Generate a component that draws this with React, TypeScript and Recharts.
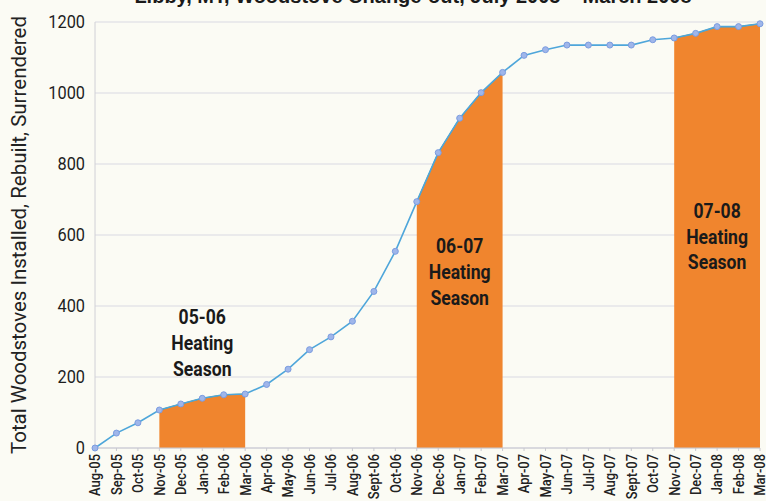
import React from "react";
import {
  ComposedChart,
  Line,
  Area,
  XAxis,
  YAxis,
  CartesianGrid,
  ReferenceDot,
} from "recharts";

const months = [
  "Aug-05", "Sep-05", "Oct-05", "Nov-05", "Dec-05", "Jan-06", "Feb-06", "Mar-06",
  "Apr-06", "May-06", "Jun-06", "Jul-06", "Aug-06", "Sept-06", "Oct-06", "Nov-06",
  "Dec-06", "Jan-07", "Feb-07", "Mar-07", "Apr-07", "May-07", "Jun-07", "Jul-07",
  "Aug-07", "Sept-07", "Oct-07", "Nov-07", "Dec-07", "Jan-08", "Feb-08", "Mar-08",
];

const totals = [
  0, 42, 71, 107, 124, 140, 150, 152,
  179, 222, 277, 313, 357, 441, 554, 694,
  832, 929, 1001, 1058, 1106, 1122, 1135, 1135,
  1135, 1135, 1150, 1155, 1168, 1187, 1187, 1195,
];

const seasonNames = ["05-06", "06-07", "07-08"];
const seasonStart = ["Nov-05", "Nov-06", "Nov-07"];
const seasonEnd = ["Mar-06", "Mar-07", "Mar-08"];
const seasonLabelAt = ["Jan-06", "Jan-07", "Jan-08"];
const seasonLabelY = [293, 495, 594];

const yTicks = [0, 200, 400, 600, 800, 1000, 1200];

const FONT = "Roboto, 'Liberation Sans', Arial, sans-serif";
const ORANGE = "#f0852e";

const chartData = months.map((m, i) => {
  const row: Record<string, string | number | null> = { month: m, total: totals[i] };
  seasonNames.forEach((s, k) => {
    const a = months.indexOf(seasonStart[k]);
    const b = months.indexOf(seasonEnd[k]);
    row["s" + k] = i >= a && i <= b ? totals[i] : null;
  });
  return row;
});

// condensed look: squeeze glyphs along the reading direction
function XTick(props: any) {
  const { x, payload } = props;
  const top = 454;
  return (
    <text
      transform={`translate(${x} ${top}) rotate(-90) scale(0.86 1)`}
      textAnchor="end"
      dominantBaseline="central"
      fontFamily={FONT}
      fontWeight={500}
      fontSize={15}
      fill="#222"
    >
      {payload.value}
    </text>
  );
}

function YTick(props: any) {
  const { x, y, payload } = props;
  return (
    <text
      transform={`translate(${x - 2} ${y}) scale(0.86 1)`}
      textAnchor="end"
      dominantBaseline="central"
      fontFamily={FONT}
      fontSize={19}
      fill="#1e1e1e"
    >
      {payload.value}
    </text>
  );
}

function SeasonLabel(name: string) {
  return (props: any) => {
    const { cx, cy } = props;
    return (
      <g transform={`translate(${cx} ${cy}) scale(0.88 1)`}>
        <text
          textAnchor="middle"
          dominantBaseline="central"
          fontFamily={FONT}
          fontWeight="bold"
          fontSize={20}
          fill="#1a1a1a"
        >
          <tspan x={0} y={-26}>{name}</tspan>
          <tspan x={0} y={0}>Heating</tspan>
          <tspan x={0} y={26}>Season</tspan>
        </text>
      </g>
    );
  };
}

export default function App() {
  return (
    <div
      style={{
        position: "absolute",
        left: 0,
        top: 0,
        width: 766,
        height: 501,
        background: "#fbfbf4",
        overflow: "hidden",
      }}
    >
      <div
        style={{
          position: "absolute",
          top: -15,
          left: 0,
          width: 826,
          textAlign: "center",
          fontFamily: "'Liberation Sans', Arial, sans-serif",
          fontWeight: "bold",
          fontSize: 20,
          color: "#1a1a1a",
          whiteSpace: "nowrap",
        }}
      >
        Libby, MT, Woodstove Change-out, July 2005 – March 2008
      </div>
      <ComposedChart
        width={766}
        height={501}
        data={chartData}
        margin={{ top: 22, right: 6, bottom: 0, left: 0 }}
      >
        <CartesianGrid vertical={false} stroke="#d9d9e2" />
        <XAxis
          dataKey="month"
          interval={0}
          height={53}
          tick={<XTick />}
          axisLine={{ stroke: "#c8c8d0" }}
          tickLine={{ stroke: "#c8c8d0" }}
          tickSize={3}
        />
        <YAxis
          width={95}
          domain={[0, 1200]}
          ticks={yTicks}
          axisLine={{ stroke: "#d0d0d6" }}
          tickLine={false}
          tick={<YTick />}
          label={{
            content: () => (
              <text
                x={19}
                y={235}
                transform="rotate(-90 19 235)"
                textAnchor="middle"
                dominantBaseline="central"
                fontFamily={FONT}
                fontSize={20}
                textLength={438}
                lengthAdjust="spacingAndGlyphs"
                fill="#222"
              >
                Total Woodstoves Installed, Rebuilt, Surrendered
              </text>
            ),
          }}
        />
        {seasonNames.map((s, k) => (
          <Area
            key={s}
            dataKey={"s" + k}
            type="linear"
            fill={ORANGE}
            fillOpacity={1}
            stroke="#6a9a4a"
            strokeWidth={1}
            isAnimationActive={false}
            dot={false}
            activeDot={false}
          />
        ))}
        <Line
          dataKey="total"
          type="linear"
          stroke="#4ea6da"
          strokeWidth={1.6}
          dot={{ r: 3, fill: "#9fb6ea", stroke: "#7b9ce0", strokeWidth: 1 }}
          isAnimationActive={false}
        />
        {seasonNames.map((s, k) => (
          <ReferenceDot
            key={"l" + s}
            x={seasonLabelAt[k]}
            y={seasonLabelY[k]}
            r={0}
            fill="none"
            stroke="none"
            shape={SeasonLabel(s)}
          />
        ))}
      </ComposedChart>
    </div>
  );
}
